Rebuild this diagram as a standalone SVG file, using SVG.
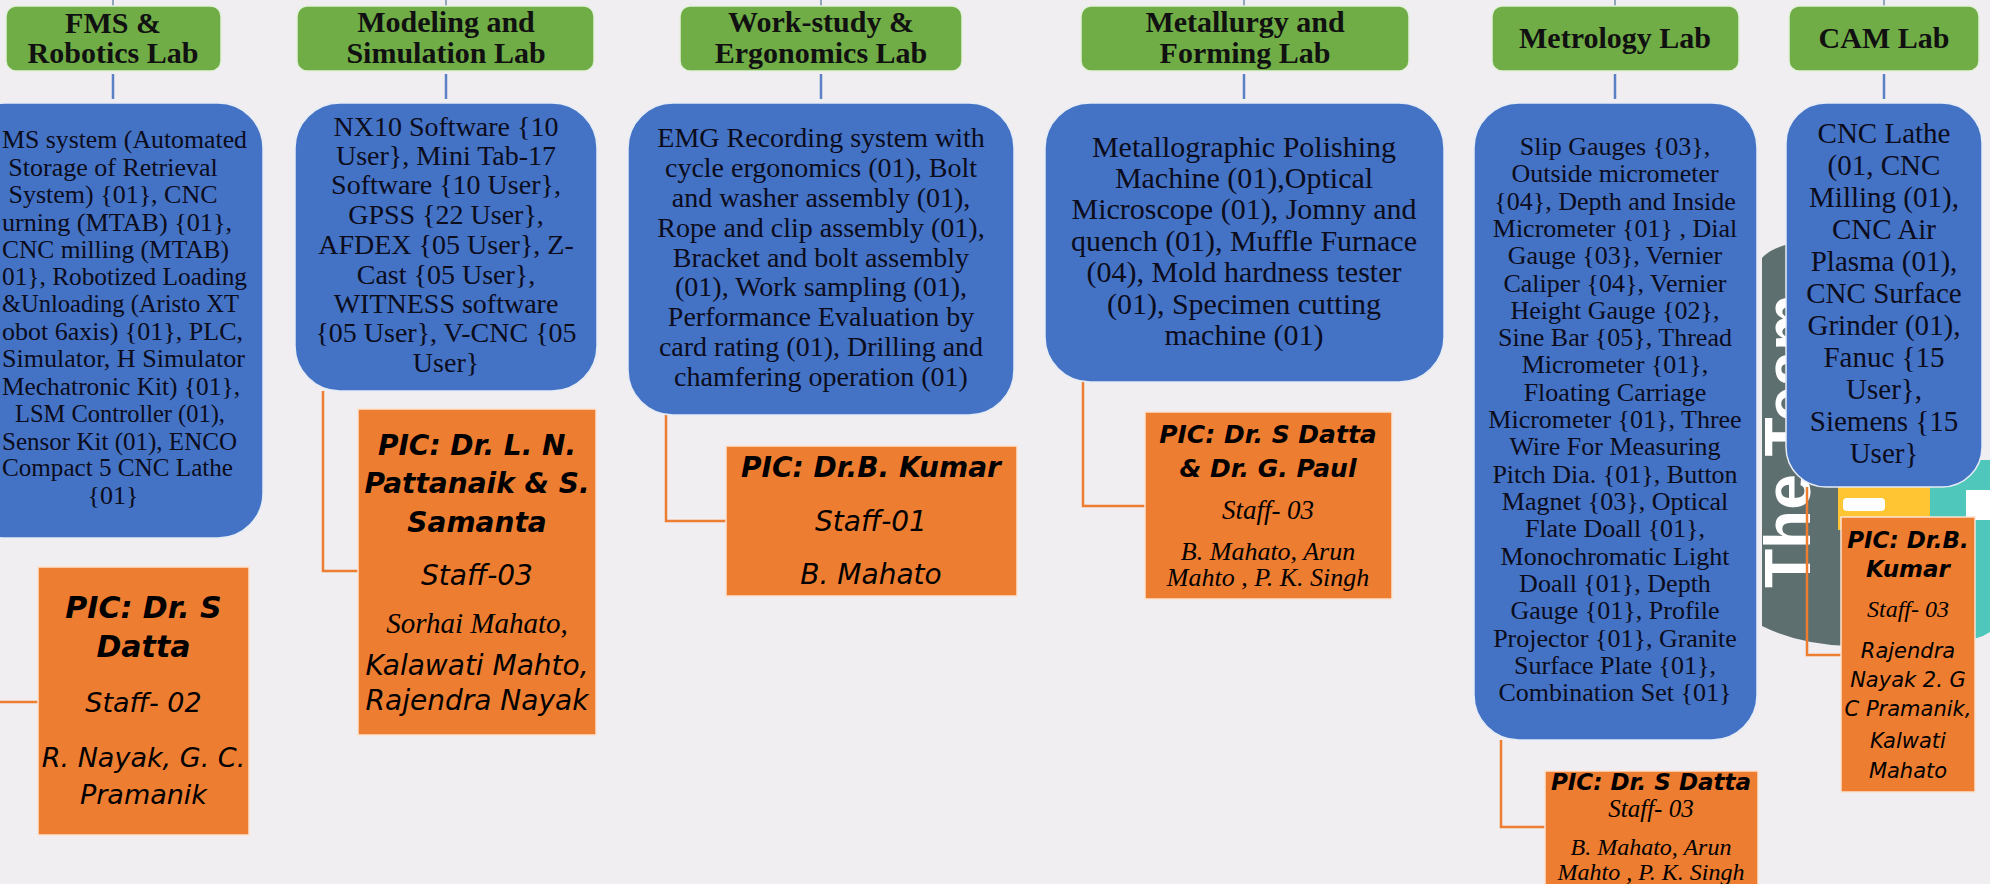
<svg xmlns="http://www.w3.org/2000/svg" width="1990" height="884" viewBox="0 0 1990 884">
<style>
.title rect{fill:#70ad47;stroke:#e4f0dc;stroke-width:1.5}
.title text{font-family:"Liberation Serif",serif;font-weight:bold;font-size:30px;fill:#111;text-anchor:middle}
.equip rect{fill:#4472c4;stroke:#e6ecf6;stroke-width:1.5}
.equip text{font-family:"Liberation Serif",serif;fill:#0b0c1c;text-anchor:middle}
.equip text.e{text-anchor:end}
.pic rect{fill:#ed7d31;stroke:#fbe3d2;stroke-width:1.5}
.pic text{fill:#000;text-anchor:middle}
.c{font-family:"DejaVu Sans",sans-serif;font-style:oblique}
.cb{font-family:"DejaVu Sans",sans-serif;font-style:oblique;font-weight:bold}
.s{font-family:"Liberation Serif",serif;font-style:italic}
.top{stroke:#8fa5b8;stroke-width:2;fill:none}
.cb2{stroke:#5b80c6;stroke-width:2.5;fill:none}
.co{stroke:#ed7d31;stroke-width:2.5;fill:none}
</style>
<rect x="0" y="0" width="1990" height="884" fill="#f0eef1"/>

<g id="team-graphic">
<path d="M1762 258 Q1772 246 1800 242 L1850 238 L1850 646 Q1800 645 1762 626 Z" fill="#5e6f6f"/>
<rect x="1838" y="460" width="94" height="70" fill="#ffc533"/>
<path d="M1930 460 H1990 V632 Q1978 640 1962 640 H1930 Z" fill="#4fc8bb"/>
<rect x="1843" y="498" width="42" height="13" rx="4" fill="#ffffff"/>
<rect x="1966" y="490" width="24" height="30" fill="#ffffff"/>
<text transform="translate(1810,588) rotate(-90)" font-family="Liberation Sans, sans-serif" font-weight="bold" font-size="64" fill="#ffffff">The Team</text>
</g>

<g id="connectors">
<path class="top" d="M113 0V6M446 0V6M821 0V6M1244 0V6M1615 0V6M1884 0V6"/>
<path class="cb2" d="M113 74V99M446 74V99M821 74V99M1244 74V99M1615 74V99M1884 74V99"/>
<path class="co" d="M-10 538V702H38"/>
<path class="co" d="M323 391V571H358"/>
<path class="co" d="M666 415V521H726"/>
<path class="co" d="M1083 382V506H1145"/>
<path class="co" d="M1501 740V827H1545"/>
<path class="co" d="M1807 487V655H1841"/>
</g>

<g id="fms-title" class="title">
<rect x="6" y="6" width="215" height="65" rx="10"/>
<text x="113" y="33">FMS &amp;</text>
<text x="113" y="63">Robotics Lab</text>
</g>
<g id="fms-equip" class="equip" font-size="26">
<rect x="-40" y="103" width="303" height="435" rx="45"/>
<text class="e" x="247" y="148" textLength="245" lengthAdjust="spacingAndGlyphs">MS system (Automated</text>
<text x="113" y="176">Storage of Retrieval</text>
<text x="113" y="203">System) {01}, CNC</text>
<text class="e" x="232" y="231" textLength="230" lengthAdjust="spacingAndGlyphs">urning (MTAB) {01},</text>
<text class="e" x="229" y="258" textLength="227" lengthAdjust="spacingAndGlyphs">CNC milling (MTAB)</text>
<text class="e" x="247" y="285" textLength="245" lengthAdjust="spacingAndGlyphs">01}, Robotized Loading</text>
<text class="e" x="239" y="312" textLength="237" lengthAdjust="spacingAndGlyphs">&amp;Unloading (Aristo XT</text>
<text class="e" x="243" y="340" textLength="241" lengthAdjust="spacingAndGlyphs">obot 6axis) {01}, PLC,</text>
<text class="e" x="245" y="367" textLength="243" lengthAdjust="spacingAndGlyphs">Simulator, H Simulator</text>
<text class="e" x="240" y="395" textLength="238" lengthAdjust="spacingAndGlyphs">Mechatronic Kit) {01},</text>
<text class="e" x="225" y="422" textLength="210" lengthAdjust="spacingAndGlyphs">LSM Controller (01),</text>
<text class="e" x="237" y="450" textLength="235" lengthAdjust="spacingAndGlyphs">Sensor Kit (01), ENCO</text>
<text class="e" x="233" y="476" textLength="231" lengthAdjust="spacingAndGlyphs">Compact 5 CNC Lathe</text>
<text x="113" y="504">{01}</text>
</g>
<g id="fms-pic" class="pic">
<rect x="38" y="567" width="211" height="268"/>
<text class="cb" font-size="30" x="143.5" y="618">PIC: Dr. S</text>
<text class="cb" font-size="30" x="143.5" y="657">Datta</text>
<text class="c" font-size="27" x="143.5" y="712">Staff- 02</text>
<text class="c" font-size="27" x="143.5" y="767">R. Nayak, G. C.</text>
<text class="c" font-size="27" x="143.5" y="804">Pramanik</text>
</g>

<g id="modeling-title" class="title">
<rect x="297" y="6" width="297" height="65" rx="10"/>
<text x="446" y="32">Modeling and</text>
<text x="446" y="63">Simulation Lab</text>
</g>
<g id="modeling-equip" class="equip" font-size="28">
<rect x="295" y="103" width="302" height="288" rx="45"/>
<text x="446" y="136">NX10 Software {10</text>
<text x="446" y="165">User}, Mini Tab-17</text>
<text x="446" y="194">Software {10 User},</text>
<text x="446" y="224">GPSS {22 User},</text>
<text x="446" y="254">AFDEX {05 User}, Z-</text>
<text x="446" y="284">Cast {05 User},</text>
<text x="446" y="313">WITNESS software</text>
<text x="446" y="342">{05 User}, V-CNC {05</text>
<text x="446" y="372">User}</text>
</g>
<g id="modeling-pic" class="pic">
<rect x="358" y="409" width="238" height="326"/>
<text class="cb" font-size="28" x="477" y="455">PIC: Dr. L. N.</text>
<text class="cb" font-size="28" x="477" y="493">Pattanaik &amp; S.</text>
<text class="cb" font-size="28" x="477" y="532">Samanta</text>
<text class="c" font-size="28" x="477" y="585">Staff-03</text>
<text class="s" font-size="29" x="477" y="633">Sorhai Mahato,</text>
<text class="c" font-size="28" x="477" y="675">Kalawati Mahto,</text>
<text class="c" font-size="28" x="477" y="710">Rajendra Nayak</text>
</g>

<g id="workstudy-title" class="title">
<rect x="680" y="6" width="282" height="65" rx="10"/>
<text x="821" y="32">Work-study &amp;</text>
<text x="821" y="63">Ergonomics Lab</text>
</g>
<g id="workstudy-equip" class="equip" font-size="28">
<rect x="628" y="103" width="386" height="312" rx="45"/>
<text x="821" y="147">EMG Recording system with</text>
<text x="821" y="177">cycle ergonomics (01), Bolt</text>
<text x="821" y="207">and washer assembly (01),</text>
<text x="821" y="237">Rope and clip assembly (01),</text>
<text x="821" y="267">Bracket and bolt assembly</text>
<text x="821" y="296">(01), Work sampling (01),</text>
<text x="821" y="326">Performance Evaluation by</text>
<text x="821" y="356">card rating (01), Drilling and</text>
<text x="821" y="386">chamfering operation (01)</text>
</g>
<g id="workstudy-pic" class="pic">
<rect x="726" y="446" width="291" height="150"/>
<text class="cb" font-size="28" x="871" y="477">PIC: Dr.B. Kumar</text>
<text class="c" font-size="28" x="871" y="531">Staff-01</text>
<text class="c" font-size="28" x="871" y="584">B. Mahato</text>
</g>

<g id="metallurgy-title" class="title">
<rect x="1081" y="6" width="328" height="65" rx="10"/>
<text x="1245" y="32">Metallurgy and</text>
<text x="1245" y="63">Forming Lab</text>
</g>
<g id="metallurgy-equip" class="equip" font-size="30">
<rect x="1045" y="103" width="399" height="279" rx="45"/>
<text x="1244" y="157">Metallographic Polishing</text>
<text x="1244" y="188">Machine (01),Optical</text>
<text x="1244" y="219">Microscope (01), Jomny and</text>
<text x="1244" y="251">quench (01), Muffle Furnace</text>
<text x="1244" y="282">(04), Mold hardness tester</text>
<text x="1244" y="314">(01), Specimen cutting</text>
<text x="1244" y="345">machine (01)</text>
</g>
<g id="metallurgy-pic" class="pic">
<rect x="1145" y="412" width="247" height="187"/>
<text class="cb" font-size="25" x="1268" y="443">PIC: Dr. S Datta</text>
<text class="cb" font-size="25" x="1268" y="477">&amp; Dr. G. Paul</text>
<text class="s" font-size="27" x="1268" y="519">Staff- 03</text>
<text class="s" font-size="26" x="1268" y="560">B. Mahato, Arun</text>
<text class="s" font-size="26" x="1268" y="586">Mahto , P. K. Singh</text>
</g>

<g id="metrology-title" class="title">
<rect x="1492" y="6" width="247" height="65" rx="10"/>
<text x="1615" y="48">Metrology Lab</text>
</g>
<g id="metrology-equip" class="equip" font-size="26">
<rect x="1474" y="103" width="283" height="637" rx="45"/>
<text x="1615" y="155">Slip Gauges {03},</text>
<text x="1615" y="182">Outside micrometer</text>
<text x="1615" y="210">{04}, Depth and Inside</text>
<text x="1615" y="237">Micrometer {01} , Dial</text>
<text x="1615" y="264">Gauge {03}, Vernier</text>
<text x="1615" y="292">Caliper {04}, Vernier</text>
<text x="1615" y="319">Height Gauge {02},</text>
<text x="1615" y="346">Sine Bar {05}, Thread</text>
<text x="1615" y="373">Micrometer {01},</text>
<text x="1615" y="401">Floating Carriage</text>
<text x="1615" y="428">Micrometer {01}, Three</text>
<text x="1615" y="455">Wire For Measuring</text>
<text x="1615" y="483">Pitch Dia. {01}, Button</text>
<text x="1615" y="510">Magnet {03}, Optical</text>
<text x="1615" y="537">Flate Doall {01},</text>
<text x="1615" y="565">Monochromatic Light</text>
<text x="1615" y="592">Doall {01}, Depth</text>
<text x="1615" y="619">Gauge {01}, Profile</text>
<text x="1615" y="647">Projector {01}, Granite</text>
<text x="1615" y="674">Surface Plate {01},</text>
<text x="1615" y="701">Combination Set {01}</text>
</g>
<g id="metrology-pic" class="pic">
<rect x="1545" y="771" width="213" height="125"/>
<text class="cb" font-size="23" x="1651" y="790">PIC: Dr. S Datta</text>
<text class="s" font-size="25" x="1651" y="817">Staff- 03</text>
<text class="s" font-size="24" x="1651" y="855">B. Mahato, Arun</text>
<text class="s" font-size="24" x="1651" y="880">Mahto , P. K. Singh</text>
</g>

<g id="cam-title" class="title">
<rect x="1789" y="6" width="190" height="65" rx="10"/>
<text x="1884" y="48">CAM Lab</text>
</g>
<g id="cam-equip" class="equip" font-size="29">
<rect x="1786" y="103" width="196" height="384" rx="40"/>
<text x="1884" y="143">CNC Lathe</text>
<text x="1884" y="175">(01, CNC</text>
<text x="1884" y="207">Milling (01),</text>
<text x="1884" y="239">CNC Air</text>
<text x="1884" y="271">Plasma (01),</text>
<text x="1884" y="303">CNC Surface</text>
<text x="1884" y="335">Grinder (01),</text>
<text x="1884" y="367">Fanuc {15</text>
<text x="1884" y="399">User},</text>
<text x="1884" y="431">Siemens {15</text>
<text x="1884" y="463">User}</text>
</g>
<g id="cam-pic" class="pic">
<rect x="1841" y="517" width="134" height="275"/>
<text class="cb" font-size="23" x="1908" y="548">PIC: Dr.B.</text>
<text class="cb" font-size="23" x="1908" y="577">Kumar</text>
<text class="s" font-size="24" x="1908" y="617">Staff- 03</text>
<text class="c" font-size="21" x="1908" y="658">Rajendra</text>
<text class="c" font-size="21" x="1908" y="687">Nayak 2. G</text>
<text class="c" font-size="21" x="1908" y="716">C Pramanik,</text>
<text class="c" font-size="21" x="1908" y="748">Kalwati</text>
<text class="c" font-size="21" x="1908" y="778">Mahato</text>
</g>
</svg>
